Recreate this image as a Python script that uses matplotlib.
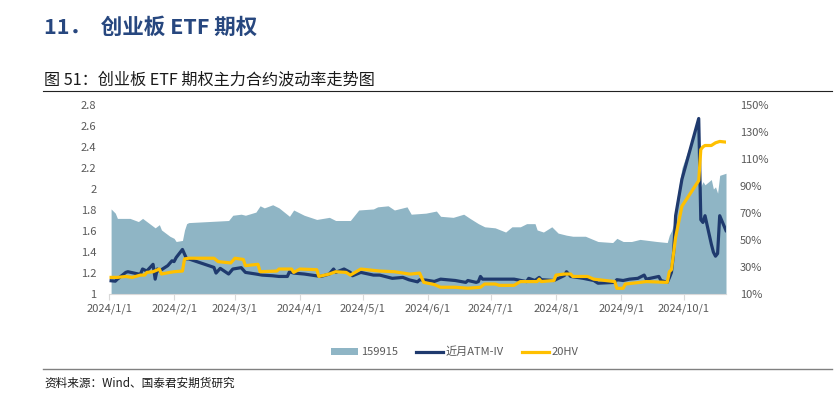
import matplotlib
matplotlib.use('Agg')
import matplotlib.pyplot as plt
import pandas as pd
from matplotlib.lines import Line2D
from matplotlib.patches import Patch
from matplotlib.ticker import FixedLocator, FuncFormatter

plt.rcParams['font.family'] = ['Noto Sans CJK SC', 'DejaVu Sans']

# ---------------- data ----------------
price_dates = ['2024-01-02', '2024-01-04', '2024-01-05', '2024-01-11', '2024-01-15', '2024-01-17',
               '2024-01-19', '2024-01-23', '2024-01-25', '2024-01-26', '2024-01-30', '2024-02-01',
               '2024-02-02', '2024-02-05', '2024-02-06', '2024-02-07', '2024-02-08', '2024-02-27',
               '2024-02-29', '2024-03-04', '2024-03-06', '2024-03-11', '2024-03-13', '2024-03-15',
               '2024-03-19', '2024-03-22', '2024-03-27', '2024-03-29', '2024-04-03', '2024-04-09',
               '2024-04-15', '2024-04-18', '2024-04-25', '2024-04-29', '2024-05-06', '2024-05-08',
               '2024-05-13', '2024-05-16', '2024-05-22', '2024-05-24', '2024-05-31', '2024-06-05',
               '2024-06-07', '2024-06-13', '2024-06-18', '2024-06-21', '2024-06-25', '2024-06-28',
               '2024-07-03', '2024-07-08', '2024-07-11', '2024-07-15', '2024-07-18', '2024-07-22',
               '2024-07-23', '2024-07-26', '2024-07-30', '2024-08-02', '2024-08-06', '2024-08-09',
               '2024-08-15', '2024-08-21', '2024-08-28', '2024-08-30', '2024-09-02', '2024-09-06',
               '2024-09-10', '2024-09-18', '2024-09-23', '2024-09-24', '2024-09-25', '2024-09-26',
               '2024-09-27', '2024-09-30', '2024-10-08', '2024-10-09', '2024-10-10', '2024-10-11',
               '2024-10-14', '2024-10-15', '2024-10-16', '2024-10-17', '2024-10-18', '2024-10-21']
price_values = [1.81, 1.77, 1.72, 1.72, 1.69, 1.72,
                1.69, 1.63, 1.66, 1.61, 1.55, 1.53,
                1.50, 1.51, 1.61, 1.67, 1.68, 1.70,
                1.75, 1.76, 1.75, 1.78, 1.84, 1.82,
                1.85, 1.82, 1.74, 1.80, 1.75, 1.71,
                1.73, 1.70, 1.70, 1.80, 1.81, 1.83,
                1.84, 1.80, 1.83, 1.76, 1.77, 1.79,
                1.74, 1.73, 1.76, 1.72, 1.67, 1.64,
                1.63, 1.59, 1.64, 1.64, 1.67, 1.67,
                1.61, 1.59, 1.64, 1.58, 1.56, 1.55,
                1.55, 1.50, 1.49, 1.53, 1.50, 1.50,
                1.52, 1.50, 1.49, 1.56, 1.60, 1.66,
                1.83, 2.20, 2.66, 2.02, 2.07, 2.04,
                2.09, 2.00, 2.02, 1.96, 2.13, 2.15]

iv_dates = ['2024-01-02', '2024-01-04', '2024-01-05', '2024-01-09', '2024-01-10', '2024-01-15',
            '2024-01-16', '2024-01-17', '2024-01-19', '2024-01-22', '2024-01-23', '2024-01-24',
            '2024-01-25', '2024-01-29', '2024-01-31', '2024-02-01', '2024-02-02', '2024-02-05',
            '2024-02-07', '2024-02-08', '2024-02-20', '2024-02-21', '2024-02-23', '2024-02-27',
            '2024-02-29', '2024-03-04', '2024-03-06', '2024-03-11', '2024-03-14', '2024-03-19',
            '2024-03-22', '2024-03-26', '2024-03-27', '2024-03-29', '2024-04-03', '2024-04-11',
            '2024-04-15', '2024-04-17', '2024-04-18', '2024-04-22', '2024-04-25', '2024-04-26',
            '2024-04-30', '2024-05-06', '2024-05-09', '2024-05-15', '2024-05-20', '2024-05-23',
            '2024-05-27', '2024-05-28', '2024-05-31', '2024-06-04', '2024-06-07', '2024-06-14',
            '2024-06-19', '2024-06-20', '2024-06-24', '2024-06-25', '2024-06-26', '2024-06-27',
            '2024-07-12', '2024-07-18', '2024-07-19', '2024-07-22', '2024-07-24', '2024-07-25',
            '2024-07-31', '2024-08-05', '2024-08-06', '2024-08-08', '2024-08-14', '2024-08-19',
            '2024-08-21', '2024-08-29', '2024-08-30', '2024-09-02', '2024-09-05', '2024-09-09',
            '2024-09-12', '2024-09-13', '2024-09-19', '2024-09-20', '2024-09-23', '2024-09-24',
            '2024-09-25', '2024-09-26', '2024-09-27', '2024-09-30', '2024-10-08', '2024-10-09',
            '2024-10-10', '2024-10-11', '2024-10-14', '2024-10-15', '2024-10-16', '2024-10-17',
            '2024-10-18', '2024-10-21']
iv_values = [19.8, 19.5, 21.0, 26.0, 26.5, 24.8,
             24.8, 28.5, 27.0, 32.0, 21.0, 28.5,
             27.0, 31.0, 34.6, 34.0, 37.0, 43.0,
             36.0, 36.0, 29.7, 25.5, 29.0, 24.8,
             28.5, 29.5, 26.0, 24.8, 24.0, 23.5,
             23.0, 23.0, 26.5, 25.5, 24.8, 23.0,
             24.8, 28.5, 26.0, 28.5, 26.0, 23.5,
             26.0, 24.0, 24.0, 21.6, 22.3, 20.5,
             19.0, 20.5, 20.3, 19.3, 21.0, 20.0,
             18.6, 20.0, 18.6, 19.2, 23.0, 21.0,
             21.0, 19.2, 21.6, 20.0, 22.3, 20.6,
             20.0, 23.7, 26.5, 23.0, 21.6, 20.0,
             18.0, 18.6, 20.6, 20.0, 21.0, 21.6,
             24.0, 21.0, 23.0, 20.0, 18.6, 22.0,
             26.0, 40.0, 68.0, 95.0, 140.0, 65.0,
             63.0, 68.0, 47.0, 41.0, 38.0, 40.0,
             68.0, 57.0]

hv_dates = ['2024-01-02', '2024-01-05', '2024-01-09', '2024-01-12', '2024-01-16', '2024-01-18',
            '2024-01-19', '2024-01-22', '2024-01-25', '2024-01-26', '2024-01-30', '2024-02-01',
            '2024-02-05', '2024-02-06', '2024-02-08', '2024-02-20', '2024-02-22', '2024-02-28',
            '2024-03-01', '2024-03-05', '2024-03-06', '2024-03-12', '2024-03-13', '2024-03-21',
            '2024-03-22', '2024-03-28', '2024-03-29', '2024-04-01', '2024-04-09', '2024-04-10',
            '2024-04-15', '2024-04-18', '2024-04-23', '2024-04-25', '2024-04-30', '2024-05-09',
            '2024-05-16', '2024-05-23', '2024-05-24', '2024-05-28', '2024-05-30', '2024-06-04',
            '2024-06-07', '2024-06-14', '2024-06-20', '2024-06-26', '2024-06-28', '2024-07-03',
            '2024-07-05', '2024-07-12', '2024-07-15', '2024-07-23', '2024-07-24', '2024-07-25',
            '2024-07-31', '2024-08-01', '2024-08-05', '2024-08-08', '2024-08-09', '2024-08-16',
            '2024-08-19', '2024-08-29', '2024-08-30', '2024-09-02', '2024-09-03', '2024-09-10',
            '2024-09-13', '2024-09-23', '2024-09-24', '2024-09-25', '2024-09-26', '2024-09-27',
            '2024-09-30', '2024-10-08', '2024-10-09', '2024-10-10', '2024-10-11', '2024-10-14',
            '2024-10-15', '2024-10-16', '2024-10-17', '2024-10-18', '2024-10-21']
hv_values = [22.3, 22.3, 23.0, 22.3, 24.0, 24.0,
             26.0, 26.5, 28.5, 24.8, 26.0, 26.5,
             27.0, 36.0, 36.5, 36.5, 34.0, 33.0,
             36.5, 35.6, 31.0, 32.0, 26.5, 27.0,
             28.5, 28.5, 26.0, 28.5, 28.0, 23.0,
             24.8, 26.5, 26.0, 24.0, 28.5, 27.0,
             26.5, 24.8, 24.8, 25.5, 18.6, 17.0,
             15.0, 15.0, 14.3, 15.0, 17.4, 17.4,
             16.4, 16.4, 19.2, 19.2, 21.0, 19.2,
             20.0, 24.0, 24.8, 24.8, 23.0, 23.0,
             21.0, 19.2, 14.2, 14.2, 17.4, 18.6,
             19.2, 18.6, 26.5, 28.0, 40.0, 52.0,
             75.0, 94.0, 117.0, 119.0, 120.0, 120.0,
             121.0, 122.0, 122.5, 123.0, 122.5]

month_ticks = ['2024-01-01', '2024-02-01', '2024-03-01', '2024-04-01', '2024-05-01',
               '2024-06-01', '2024-07-01', '2024-08-01', '2024-09-01', '2024-10-01']
left_ticks = [1.0, 1.2, 1.4, 1.6, 1.8, 2.0, 2.2, 2.4, 2.6, 2.8]
right_ticks = [10, 30, 50, 70, 90, 110, 130, 150]

series_names = ['159915', '近月ATM-IV', '20HV']

# ---------------- styling ----------------
AREA_C = '#8FB5C5'
IV_C = '#1F3A6E'
HV_C = '#FFC000'
TICK_C = '#595959'

W, H = 836, 397
fig = plt.figure(figsize=(W / 100, H / 100), dpi=100)
fig.patch.set_facecolor('white')

ax = fig.add_axes([109 / W, 1 - 294 / H, (726 - 109) / W, (294 - 105) / H])
pdates = pd.to_datetime(price_dates)
ax.fill_between(pdates, price_values, 1.0, color=AREA_C, lw=0, zorder=1)
ax.set_ylim(1.0, 2.8)
ax.set_xlim(pd.Timestamp('2024-01-01'), pd.Timestamp('2024-10-21'))

ax2 = ax.twinx()
ax2.plot(pd.to_datetime(iv_dates), iv_values, color=IV_C, lw=2.3, solid_joinstyle='round', zorder=3)
ax2.plot(pd.to_datetime(hv_dates), hv_values, color=HV_C, lw=2.3, solid_joinstyle='round', zorder=4)
ax2.set_ylim(10, 150)

for a in (ax, ax2):
    for s in a.spines.values():
        s.set_visible(False)
ax.spines['bottom'].set_visible(True)
ax.spines['bottom'].set_color('#D9D9D9')
ax.spines['bottom'].set_linewidth(0.8)

mt = pd.to_datetime(month_ticks)
ax.xaxis.set_major_locator(FixedLocator(matplotlib.dates.date2num(mt)))
ax.set_xticklabels([f'{d.year}/{d.month}/{d.day}' for d in mt])
ax.tick_params(axis='x', colors='#D9D9D9', labelcolor=TICK_C, labelsize=8, length=4, width=0.8, pad=3)

ax.yaxis.set_major_locator(FixedLocator(left_ticks))
ax.yaxis.set_major_formatter(FuncFormatter(lambda v, p: f'{v:g}'))
ax.tick_params(axis='y', length=0, labelcolor=TICK_C, labelsize=8, pad=9)

ax2.yaxis.set_major_locator(FixedLocator(right_ticks))
ax2.yaxis.set_major_formatter(FuncFormatter(lambda v, p: f'{v:.0f}%'))
ax2.tick_params(axis='y', length=0, labelcolor=TICK_C, labelsize=8, pad=10)

# legend
handles = [Patch(facecolor=AREA_C, edgecolor='none'),
           Line2D([], [], color=IV_C, lw=2.3),
           Line2D([], [], color=HV_C, lw=2.3)]
leg = fig.legend(handles, series_names, loc='center', bbox_to_anchor=(455 / W, 1 - 352 / H),
                 ncol=3, frameon=False, fontsize=8, handlelength=2.4, handleheight=0.5,
                 handletextpad=0.3, columnspacing=1.6, labelcolor=TICK_C)

# titles and rules
fig.text(44 / W, 1 - 27 / H, '11．  创业板 ETF 期权', fontsize=15.5, fontweight='bold',
         color='#27477F', va='center', ha='left')
fig.text(44 / W, 1 - 80 / H, '图 51：创业板 ETF 期权主力合约波动率走势图', fontsize=11.6,
         color='#1A1A1A', va='center', ha='left')
fig.add_artist(Line2D([43 / W, 832 / W], [1 - 90.7 / H] * 2, color='#222222', lw=0.8))
fig.add_artist(Line2D([43 / W, 832 / W], [1 - 369.3 / H] * 2, color='#808080', lw=1.0))
fig.text(44 / W, 1 - 383 / H, '资料来源：Wind、国泰君安期货研究', fontsize=8.4,
         color='#1A1A1A', va='center', ha='left')

fig.savefig('out.png', dpi=100, facecolor='white')
